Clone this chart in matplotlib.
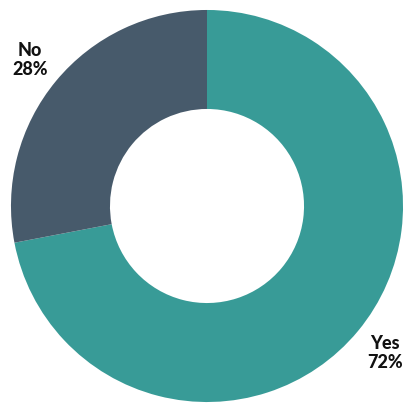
import matplotlib
matplotlib.use("Agg")
import matplotlib.pyplot as plt

labels = ["Yes", "No"]
values = [72, 28]
colors = ["#389b97", "#475a6b"]

fig = plt.figure(figsize=(4.14, 4.14), dpi=100)
ax = fig.add_axes([0, 0, 1, 1])

# clockwise from the top: Yes first, then No
ax.pie(values, colors=colors, startangle=90, counterclock=False,
       radius=1.0, wedgeprops=dict(width=0.505, linewidth=0))

# labels sit outside the ring
label_pos = {"No": (-0.903, 0.75), "Yes": (0.908, -0.745)}
for lab, val in zip(labels, values):
    x, y = label_pos[lab]
    ax.text(x, y, f"{lab}\n{val}%", ha="center", va="center",
            fontsize=13, fontweight="black", family=["Lato", "DejaVu Sans"],
            color="#111111", linespacing=1.1)

ax.set_xlim(-1.056, 1.056)
ax.set_ylim(-1.056, 1.056)
ax.set_aspect("equal")
ax.axis("off")

plt.savefig("out.png", dpi=100)
